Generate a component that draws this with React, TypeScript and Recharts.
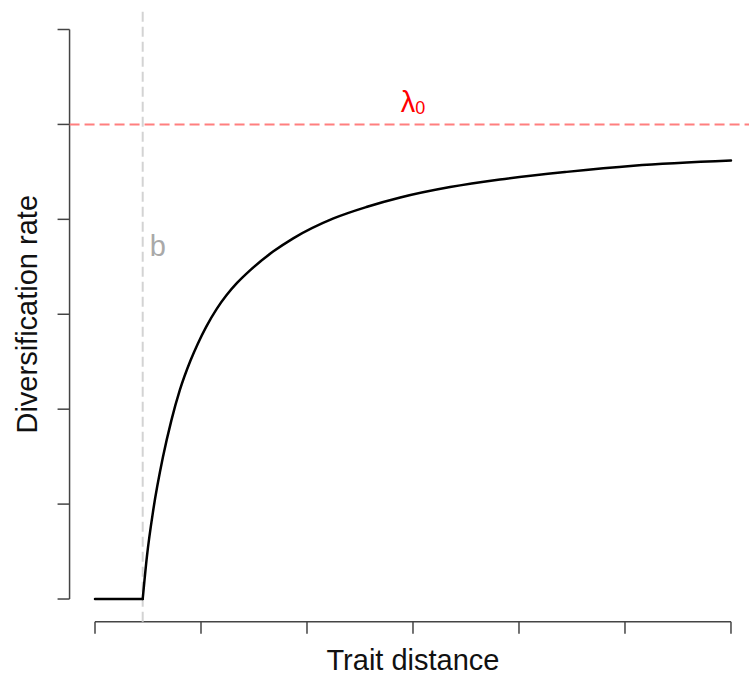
// Diversification rate vs trait distance (R base-graphics look)
import { LineChart, Line, XAxis, YAxis, ReferenceLine, ReferenceDot } from "recharts";

// flat part before the threshold b
const flatDistance = [0, 0.45];
const flatRate = [0, 0];

// rising part
const curveDistance = [0.45, 0.49, 0.55, 0.64, 0.72, 0.8, 0.9, 0.97, 1.05, 1.15, 1.24, 1.34, 1.46, 1.68, 1.87, 2.25, 2.56, 2.88, 3.35, 3.82, 4.45, 5.08, 6.0];
const curveRate = [0, 0.45, 0.94, 1.49, 1.88, 2.2, 2.51, 2.69, 2.87, 3.06, 3.2, 3.33, 3.46, 3.66, 3.8, 4.01, 4.13, 4.23, 4.34, 4.42, 4.5, 4.565, 4.62];

const lambda0 = 5;
const bThreshold = 0.45;
const lambdaLabelX = 3;

const xTicks = [0, 1, 2, 3, 4, 5, 6];
const yTicks = [0, 1, 2, 3, 4, 5, 6];

const flatData = flatDistance.map((d, i) => ({ d, rate: flatRate[i] }));
const curveData = curveDistance.map((d, i) => ({ d, rate: curveRate[i] }));

const FONT = "'Liberation Sans', Arial, Helvetica, sans-serif";
const AXIS = "#444";
const PAD = 0.24; // R's 4% axis extension

const XTick = (p: any) => (
  <line x1={p.x} x2={p.x} y1={p.y} y2={p.y + 12} stroke={AXIS} strokeWidth={1.5} />
);
const YTick = (p: any) => (
  <line x1={p.x} x2={p.x - 12} y1={p.y} y2={p.y} stroke={AXIS} strokeWidth={1.5} />
);

export default function App() {
  return (
    <div style={{ position: "absolute", left: 0, top: 0, background: "#fff" }}>
      <LineChart
        width={749}
        height={678}
        margin={{ top: 6.72, right: 0, bottom: 55.2, left: 68.56 }}
      >
        <XAxis
          type="number"
          dataKey="d"
          domain={[-PAD, 6.17]}
          ticks={xTicks}
          interval={0}
          allowDataOverflow
          height={1}
          tickSize={0}
          tickMargin={0}
          axisLine={false}
          tickLine={false}
          tick={XTick}
        />
        <YAxis
          type="number"
          domain={[-PAD, 6 + PAD]}
          ticks={yTicks}
          interval={0}
          allowDataOverflow
          width={1}
          tickSize={0}
          tickMargin={0}
          axisLine={false}
          tickLine={false}
          tick={YTick}
        />

        {/* axis lines, only between first and last tick */}
        <ReferenceLine
          segment={[{ x: 0, y: -PAD }, { x: 6, y: -PAD }]}
          stroke={AXIS}
          strokeWidth={1.5}
          ifOverflow="visible"
          label={(p: any) => (
            <text
              x={p.viewBox.x + p.viewBox.width / 2}
              y={p.viewBox.y + 48}
              textAnchor="middle"
              fontFamily={FONT}
              fontSize={29}
              fill="#111"
            >
              Trait distance
            </text>
          )}
        />
        <ReferenceLine
          segment={[{ x: -PAD, y: 0 }, { x: -PAD, y: 6 }]}
          stroke={AXIS}
          strokeWidth={1.5}
          ifOverflow="visible"
          label={(p: any) => {
            const cx = p.viewBox.x - 32.5;
            const cy = p.viewBox.y + p.viewBox.height / 2;
            return (
              <text
                x={cx}
                y={cy}
                transform={`rotate(-90 ${cx} ${cy})`}
                textAnchor="middle"
                fontFamily={FONT}
                fontSize={29}
                fill="#111"
              >
                Diversification rate
              </text>
            );
          }}
        />

        <ReferenceLine
          x={bThreshold}
          stroke="#d3d3d3"
          strokeWidth={2}
          strokeDasharray="10 5"
          label={(p: any) => (
            <text x={p.viewBox.x + 7} y={256} fontFamily={FONT} fontSize={29} fill="#a9a9a9">
              b
            </text>
          )}
        />
        <ReferenceLine y={lambda0} stroke="#ff7f7f" strokeWidth={2} strokeDasharray="10 5" />
        <ReferenceDot
          x={lambdaLabelX}
          y={lambda0}
          r={0}
          stroke="none"
          fill="none"
          label={(p: any) => {
            const cx = p.viewBox.x + p.viewBox.width / 2;
            const cy = p.viewBox.y + p.viewBox.height / 2;
            return (
              <text x={cx} y={cy - 12} textAnchor="middle" fontFamily={FONT} fontSize={29} fill="#ff0000">
                λ
                <tspan fontSize={18} dy={2}>0</tspan>
              </text>
            );
          }}
        />

        <Line
          data={flatData}
          dataKey="rate"
          type="linear"
          stroke="#000"
          strokeWidth={2.5}
          strokeLinecap="round"
          dot={false}
          activeDot={false}
          isAnimationActive={false}
        />
        <Line
          data={curveData}
          dataKey="rate"
          type="monotone"
          stroke="#000"
          strokeWidth={2.5}
          strokeLinecap="round"
          dot={false}
          activeDot={false}
          isAnimationActive={false}
        />
      </LineChart>
    </div>
  );
}
